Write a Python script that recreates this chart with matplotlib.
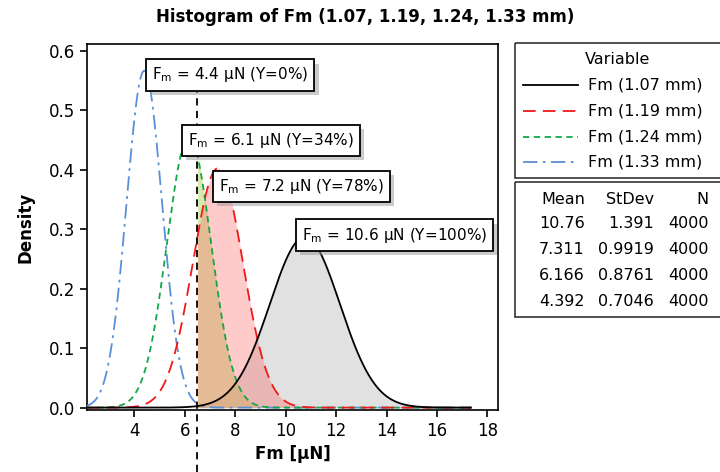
import numpy as np
import matplotlib
matplotlib.use('Agg')
import matplotlib.pyplot as plt
from matplotlib.patches import Rectangle
from matplotlib.lines import Line2D
import matplotlib.patheffects as pe

# summary statistics (from the table in the reference)
labels = ["Fm (1.07 mm)", "Fm (1.19 mm)", "Fm (1.24 mm)", "Fm (1.33 mm)"]
means = [10.76, 7.311, 6.166, 4.392]
stdevs = [1.391, 0.9919, 0.8761, 0.7046]
counts = [4000, 4000, 4000, 4000]
mean_txt = ["10.76", "7.311", "6.166", "4.392"]
sd_txt = ["1.391", "0.9919", "0.8761", "0.7046"]

# annotation values
fm_vals = ["4.4", "6.1", "7.2", "10.6"]
yields = ["0%", "34%", "78%", "100%"]
box_pos = [(7.80, 0.559), (9.40, 0.449), (10.63, 0.372), (14.31, 0.290)]
threshold = 6.5
x_range = (2.1, 17.35)

line_colors = ["black", "#f01818", "#12a84a", "#5a8ed8"]
fill_colors = ["#d8d8d8", "#ff5a5a", "#b8d870", "#9bbcf0"]
fill_alpha = [0.75, 0.32, 0.55, 0.3]
styles = ["-", (0, (7, 4)), (0, (3.5, 2.5)), (0, (8, 3, 1.5, 3))]

plt.rcParams['font.family'] = ['DejaVu Sans']

fig = plt.figure(figsize=(7.2, 4.72), dpi=100)
ax = fig.add_axes([87/720, 1 - 410/472, (498-87)/720, (410-44)/472])

x = np.linspace(x_range[0], x_range[1], 600)
curves = []
for m, s in zip(means, stdevs):
    curves.append(np.exp(-0.5*((x - m)/s)**2) / (s*np.sqrt(2*np.pi)))

# shaded areas above threshold
mask = x >= threshold
for i in [0, 3, 2, 1]:
    ax.fill_between(x[mask], 0, curves[i][mask], color=fill_colors[i],
                    alpha=fill_alpha[i], lw=0, zorder=1)

for i in [3, 2, 1, 0]:
    ax.plot(x, curves[i], color=line_colors[i], linestyle=styles[i], lw=1.3, zorder=3)

ax.plot([threshold, threshold], [-0.108, 0.53], color="black", linestyle=(0, (4, 3)),
        lw=1.3, clip_on=False, zorder=4)

for (bx, by), v, yv in zip(box_pos, fm_vals, yields):
    t = ax.text(bx, by, "F$_\\mathregular{m}$ = " + v + " \u03bcN (Y=" + yv + ")",
                ha="center", va="center", fontsize=11, zorder=6,
                bbox=dict(boxstyle="square,pad=0.4", fc="white", ec="black", lw=1.3))
    t.get_bbox_patch().set_path_effects([pe.SimplePatchShadow(offset=(3, -3), shadow_rgbFace="#999999", alpha=0.5),
                                         pe.Normal()])

ax.set_xlim(2.12, 18.42)
ax.set_ylim(-0.004, 0.611)
ax.set_xticks([4, 6, 8, 10, 12, 14, 16, 18])
ax.set_yticks([0.0, 0.1, 0.2, 0.3, 0.4, 0.5, 0.6])
ax.set_yticklabels(["0.0", "0.1", "0.2", "0.3", "0.4", "0.5", "0.6"])
ax.tick_params(labelsize=12, direction="out", length=5, width=1.2)
for sp in ax.spines.values():
    sp.set_linewidth(1.2)
ax.set_xlabel("Fm [\u03bcN]", fontsize=12, fontweight="bold", labelpad=4)
ax.set_ylabel("Density", fontsize=12, fontweight="bold", labelpad=10)
fig.text(365/720, 1 - 17/472, "Histogram of Fm (1.07, 1.19, 1.24, 1.33 mm)",
         ha="center", va="center", fontsize=12, fontweight="bold")

# legend and statistics panels (pixel coordinates)
pax = fig.add_axes([0, 0, 1, 1])
pax.set_xlim(0, 720)
pax.set_ylim(472, 0)
pax.axis("off")
pax.add_patch(Rectangle((515, 43), 215, 135, fill=False, ec="#333333", lw=1.2))
pax.add_patch(Rectangle((515, 182), 215, 135, fill=False, ec="#333333", lw=1.2))
pax.text(618, 60, "Variable", ha="center", va="center", fontsize=11.5)
rows_y = [85, 111, 137, 162]
for i, yy in enumerate(rows_y):
    pax.add_line(Line2D([523, 578], [yy, yy], color=line_colors[i], linestyle=styles[i], lw=1.3))
    pax.text(588, yy, labels[i], ha="left", va="center", fontsize=11.5)

pax.text(585, 200, "Mean", ha="right", va="center", fontsize=11.5)
pax.text(654, 200, "StDev", ha="right", va="center", fontsize=11.5)
pax.text(709, 200, "N", ha="right", va="center", fontsize=11.5)
for i, yy in enumerate([224, 250, 276, 301]):
    pax.text(585, yy, mean_txt[i], ha="right", va="center", fontsize=11.5)
    pax.text(654, yy, sd_txt[i], ha="right", va="center", fontsize=11.5)
    pax.text(709, yy, str(counts[i]), ha="right", va="center", fontsize=11.5)

fig.savefig("out.png", dpi=100)
plt.close(fig)
